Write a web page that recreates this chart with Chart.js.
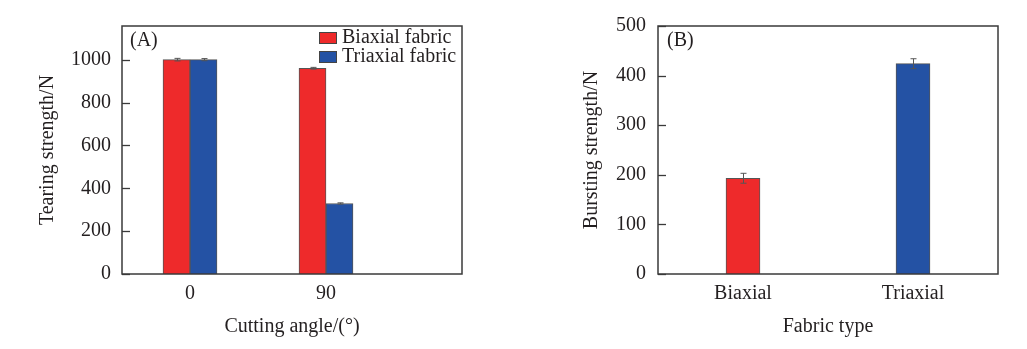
<!DOCTYPE html>
<html>
<head>
<meta charset="utf-8">
<script src="https://cdn.jsdelivr.net/npm/chart.js@4/dist/chart.umd.min.js"></script>
<style>
  html, body { margin: 0; padding: 0; background: #fff; }
  body { width: 1027px; height: 349px; position: relative; overflow: hidden; }
  .panel { position: absolute; top: 0; height: 349px; }
  #panelA { left: 0; width: 500px; }
  #panelB { left: 540px; width: 487px; }
</style>
</head>
<body>
<div class="panel" id="panelA"><canvas id="tearChart"></canvas></div>
<div class="panel" id="panelB"><canvas id="burstChart"></canvas></div>
<script>
// Panel A data
const cuttingAngles = ["0", "90"];
const biaxialTear = [1000, 960];
const biaxialTearErr = [6, 4];
const triaxialTear = [1000, 329];
const triaxialTearErr = [5, 3];

// Panel B data
const fabricTypes = ["Biaxial", "Triaxial"];
const burstStrength = [193, 424];
const burstErr = [10, 10];

const RED = "#ee2a2b";
const BLUE = "#2452a4";
const TEXT = "#231f20";
const FONT = { family: "'Liberation Serif', 'Times New Roman', serif", size: 20, lineHeight: 1.2 };

Chart.defaults.color = TEXT;
Chart.defaults.font = FONT;

// frame around plot + inward y ticks + panel letter
const framePlugin = {
  id: "frame",
  afterDraw(chart, args, opts) {
    const { ctx, chartArea } = chart;
    const y = chart.scales.y;
    ctx.save();
    ctx.strokeStyle = "#3a3a3a";
    ctx.lineWidth = 1.3;
    y.ticks.forEach((t) => {
      const py = Math.round(y.getPixelForValue(t.value)) + 0.5;
      ctx.beginPath();
      ctx.moveTo(chartArea.left, py);
      ctx.lineTo(chartArea.left + 8, py);
      ctx.stroke();
    });
    ctx.lineWidth = 1.5;
    ctx.strokeRect(chartArea.left, chartArea.top, chartArea.right - chartArea.left, chartArea.bottom - chartArea.top);
    ctx.fillStyle = TEXT;
    ctx.font = "20px 'Liberation Serif', serif";
    ctx.textBaseline = "middle";
    ctx.fillText(opts.letter, chartArea.left + opts.dx, 41);
    ctx.restore();
  },
};

// error bars read from dataset.errors
const errorBarPlugin = {
  id: "errorBars",
  afterDatasetsDraw(chart) {
    const { ctx } = chart;
    const y = chart.scales.y;
    ctx.save();
    ctx.strokeStyle = "#555";
    ctx.lineWidth = 1;
    chart.data.datasets.forEach((ds, di) => {
      const meta = chart.getDatasetMeta(di);
      meta.data.forEach((bar, i) => {
        const v = typeof ds.data[i] === "object" ? ds.data[i].y : ds.data[i];
        const e = ds.errors[i];
        const x = Math.round(bar.x) + 0.5;
        const y1 = y.getPixelForValue(v + e);
        const y2 = y.getPixelForValue(v - e);
        ctx.beginPath();
        ctx.moveTo(x, y1); ctx.lineTo(x, y2);
        ctx.moveTo(x - 3, y1); ctx.lineTo(x + 3, y1);
        ctx.moveTo(x - 3, y2); ctx.lineTo(x + 3, y2);
        ctx.stroke();
      });
    });
    ctx.restore();
  },
};

// legend drawn inside plot area, top right
const innerLegend = {
  id: "innerLegend",
  afterDraw(chart) {
    const { ctx } = chart;
    ctx.save();
    ctx.font = "20px 'Liberation Serif', serif";
    ctx.textBaseline = "middle";
    chart.data.datasets.forEach((ds, i) => {
      const cy = 38 + i * 19;
      ctx.fillStyle = ds.backgroundColor;
      ctx.fillRect(319, cy - 6, 18, 12);
      ctx.strokeStyle = "#444";
      ctx.lineWidth = 1;
      ctx.strokeRect(319.5, cy - 5.5, 17, 11);
      ctx.fillStyle = TEXT;
      ctx.fillText(ds.label, 342, cy);
    });
    ctx.restore();
  },
};

function yAxis(max, step, width, titleText, titlePad, tickPad) {
  return {
    min: 0,
    max: max,
    afterBuildTicks: (scale) => {
      const ticks = [];
      for (let v = 0; v <= max; v += step) ticks.push({ value: v });
      scale.ticks = ticks;
    },
    afterFit: (scale) => { scale.width = width; },
    grid: { display: false, drawTicks: false },
    border: { display: false },
    ticks: { padding: tickPad, color: TEXT, callback: (v) => String(v) },
    title: { display: true, text: titleText, padding: { top: titlePad, bottom: 0 }, color: TEXT },
  };
}

new Chart(document.getElementById("tearChart"), {
  type: "bar",
  data: {
    datasets: [
      {
        label: "Biaxial fabric",
        data: biaxialTear.map((v, i) => ({ x: i, y: v })),
        errors: biaxialTearErr,
        backgroundColor: RED,
        borderColor: "#555",
        borderWidth: 1,
        barThickness: 27,
      },
      {
        label: "Triaxial fabric",
        data: triaxialTear.map((v, i) => ({ x: i, y: v })),
        errors: triaxialTearErr,
        backgroundColor: BLUE,
        borderColor: "#555",
        borderWidth: 1,
        barThickness: 27,
      },
    ],
  },
  options: {
    responsive: true,
    maintainAspectRatio: false,
    animation: false,
    layout: { padding: { top: 26, right: 38, left: 0, bottom: 0 } },
    plugins: { legend: { display: false }, tooltip: { enabled: false }, frame: { letter: "(A)", dx: 8 } },
    scales: {
      x: {
        type: "linear",
        offset: false,
        bounds: "ticks",
        min: -0.5,
        max: 2,
        afterBuildTicks: (scale) => { scale.ticks = cuttingAngles.map((_, i) => ({ value: i })); },
        afterFit: (scale) => { scale.height = 75; },
        grid: { display: false, drawTicks: false, offset: false },
        border: { display: false },
        ticks: { padding: 8, color: TEXT, callback: (v) => cuttingAngles[v] },
        title: { display: true, text: "Cutting angle/(°)", padding: { top: 0, bottom: 10 }, color: TEXT },
      },
      y: yAxis(1157, 200, 122, "Tearing strength/N", 36, 11),
    },
  },
  plugins: [framePlugin, errorBarPlugin, innerLegend],
});

new Chart(document.getElementById("burstChart"), {
  type: "bar",
  data: {
    labels: fabricTypes,
    datasets: [
      {
        label: "Bursting strength",
        data: burstStrength,
        errors: burstErr,
        backgroundColor: [RED, BLUE],
        borderColor: "#555",
        borderWidth: 1,
        barThickness: 34,
      },
    ],
  },
  options: {
    responsive: true,
    maintainAspectRatio: false,
    animation: false,
    layout: { padding: { top: 26, right: 29, left: 0, bottom: 0 } },
    plugins: { legend: { display: false }, tooltip: { enabled: false }, frame: { letter: "(B)", dx: 9 } },
    scales: {
      x: {
        afterFit: (scale) => { scale.height = 75; },
        grid: { display: false, drawTicks: false },
        border: { display: false },
        ticks: { padding: 8, color: TEXT },
        title: { display: true, text: "Fabric type", padding: { top: 0, bottom: 10 }, color: TEXT },
      },
      y: yAxis(500, 100, 118, "Bursting strength/N", 40, 12),
    },
  },
  plugins: [framePlugin, errorBarPlugin],
});
</script>
</body>
</html>
